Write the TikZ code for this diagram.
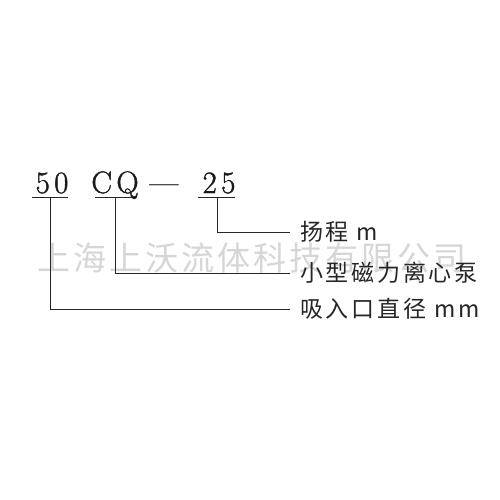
\documentclass[tikz,border=0pt]{standalone}
\usepackage{fontspec}
\newfontfamily\cjk[LetterSpace=9]{Noto Sans CJK SC}
\newfontfamily\cjkls[LetterSpace=12]{Noto Sans CJK SC}
\newfontfamily\numfont[LetterSpace=14,FakeBold=1.2]{Latin Modern Roman}
\begin{document}
\begin{tikzpicture}[x=1pt,y=-1pt,
  every node/.style={inner sep=0pt},
  ln/.style={draw=black!85, line width=1pt},
  code/.style={font=\numfont\fontsize{31}{31}\selectfont, anchor=base, text depth=0pt, text=black!90},
  lbl/.style={font=\cjkls\fontsize{23}{23}\selectfont, anchor=west, text=black!85},
  wmark/.style={font=\cjk\fontsize{33}{33}\selectfont, text=black!16}]
\useasboundingbox[fill=white] (0,0) rectangle (500,500);
\node[wmark] (wm) at (252,258) {上海上沃流体科技有限公司};
% code
\node[code] (c50) at (52,193) {50};
\node[code] (ccq) at (115,193) {CQ};
\node[code] (cdash) at (164,193) {—};
\node[code] (c25) at (219,193) {25};
% underlines
\draw[ln] ([shift={(-20,4)}]c50.base) -- ([shift={(16,4)}]c50.base);
\draw[ln] ([shift={(-20,4)}]ccq.base) -- ([shift={(17,4)}]ccq.base);
\draw[ln] ([shift={(-21,4)}]c25.base) -- ([shift={(16,4)}]c25.base);
\coordinate (u50) at ([shift={(-2,4)}]c50.base);
\coordinate (ucq) at ([shift={(0,4)}]ccq.base);
\coordinate (u25) at ([shift={(-2,4)}]c25.base);
% labels
\node[lbl] (l1) at (300,232) {扬程 m};
\node[lbl] (l2) at (300,273) {小型磁力离心泵};
\node[lbl] (l3) at (300,309) {吸入口直径 mm};
% connectors
\draw[ln] (u25) |- ([xshift=-10pt]l1.west);
\draw[ln] (ucq) |- ([xshift=-10pt]l2.west);
\draw[ln] (u50) |- ([xshift=-10pt]l3.west);
\end{tikzpicture}
\end{document}
